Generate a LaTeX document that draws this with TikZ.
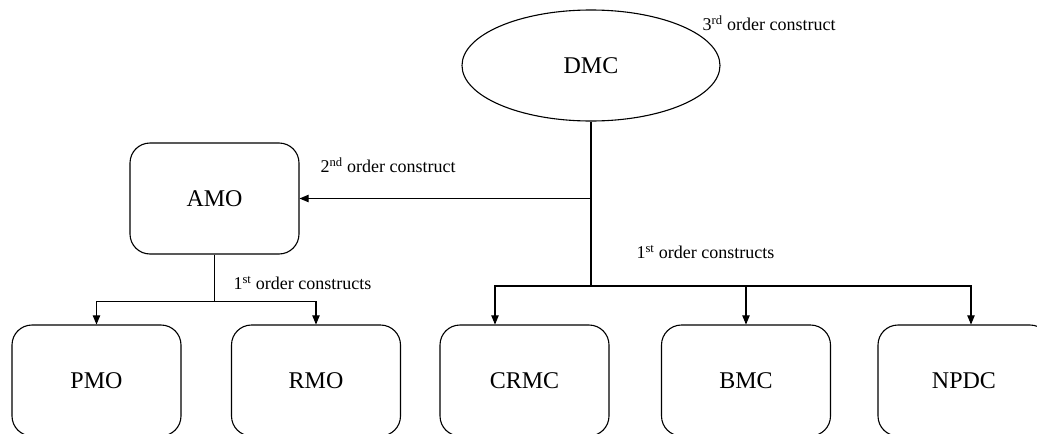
\documentclass[tikz,border=0pt]{standalone}
\usepackage{fontspec}
\setmainfont{Liberation Serif}
\usetikzlibrary{arrows,shapes.geometric}

\tikzset{
  box/.style={draw, rounded corners=20pt, minimum width=169pt, minimum height=111pt, inner sep=0pt, font=\fontsize{24}{26}\selectfont},
  oval/.style={draw, ellipse, minimum width=258pt, minimum height=111pt, inner sep=0pt, font=\fontsize{24}{26}\selectfont},
  lbl/.style={anchor=west, inner sep=0pt, font=\fontsize{18}{20}\selectfont},
  arr/.style={-triangle 45}
}

\begin{document}
\begin{tikzpicture}[x=1pt, y=-1pt, line width=1.1pt]
      \useasboundingbox (0,0) rectangle (1037,434);
      \clip (0,0) rectangle (1037,434);

      \node[oval] (dmc) at (591,65.5) {DMC};
      \node[box]  (amo) at (214.5,198.5) {AMO};
      \node[box]  (pmo) at (96.5,380.5) {PMO};
      \node[box]  (rmo) at (316,380.5) {RMO};
      \node[box]  (crmc) at (524.5,380.5) {CRMC};
      \node[box]  (bmc) at (746,380.5) {BMC};
      \node[box, minimum width=172pt] (npdc) at (964,380.5) {NPDC};

      \coordinate (jr) at (591,286);
      \coordinate (jb) at (bmc.north |- jr);
      \draw (dmc.south) -- (jr);
      \draw[arr] (dmc.south |- amo.east) -- (amo.east);
      \draw[arr] (jr) -| ([xshift=-29.5pt]crmc.north);
      \draw[arr] (jr) -- (jb) -- (bmc.north);
      \draw[arr] (jb) -| ([xshift=7pt]npdc.north);

      \draw (amo.south) -- ++(0,47) coordinate (jl);
      \draw[arr] (jl) -| (pmo.north);
      \draw[arr] (jl) -| (rmo.north);

      \node[lbl] (l3) at (702,23) {3\textsuperscript{rd} order construct};
      \node[lbl] (l2) at (320,165) {2\textsuperscript{nd} order construct};
      \node[lbl] (l1a) at (233,283) {1\textsuperscript{st} order constructs};
      \node[lbl] (l1b) at (636,252) {1\textsuperscript{st} order constructs};
    \end{tikzpicture}
\end{document}
